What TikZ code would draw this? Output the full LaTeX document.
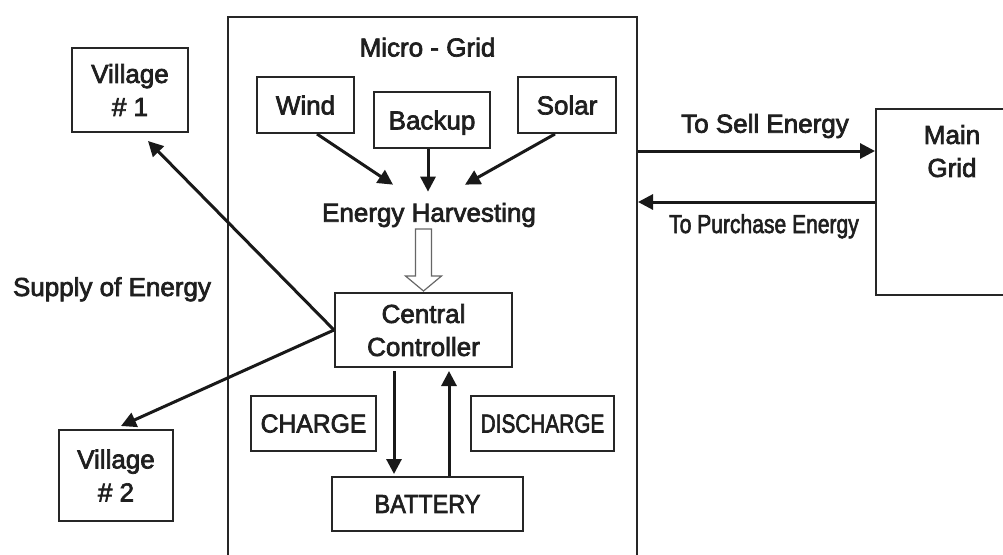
\documentclass[tikz,border=0pt]{standalone}
\usepackage{fontspec}
\setmainfont{Liberation Sans}
\usetikzlibrary{arrows.meta,calc}
\newcommand\heavyon{\special{pdf:literal direct 2 Tr 0.7 w}}
\newcommand\heavyoff{\special{pdf:literal direct 0 Tr}}
\begin{document}
\begin{tikzpicture}[x=1pt,y=-1pt,
  every node/.style={font=\fontsize{26}{33}\selectfont, text=black!88,
    execute at begin node=\heavyon, execute at end node=\heavyoff},
  box/.style={draw=black!85, line width=2pt, inner sep=0pt, align=center, text depth=0pt},
  lbl/.style={inner sep=0pt, anchor=base},
  conn/.style={draw=black!90, line width=3pt, -{Triangle[length=15pt,width=15pt]}},
  ]
\useasboundingbox (0,0) rectangle (1003,554);
\fill[white] (0,0) rectangle (1003,554);

% micro-grid enclosure (open at the bottom of the picture)
\draw[black!85, line width=2.2pt] (228,560) -- (228,17) -- (637,17) -- (637,560);

% nodes
\node[lbl] (mgl) at (427.5,56.5) {Micro - Grid};
\node[box, minimum width=116pt, minimum height=84pt] (v1) at (130,90) {Village\\\# 1};
\node[box, minimum width=114pt, minimum height=91pt] (v2) at (116,475.5) {Village\\\# 2};
\node[box, minimum width=97pt, minimum height=56pt] (wind) at (305.5,105) {Wind};
\node[box, minimum width=116pt, minimum height=56pt] (backup) at (432,120) {Backup};
\node[box, minimum width=98pt, minimum height=56pt] (solar) at (567,105) {Solar};
\node[lbl] (eh) at (429,221.7) {Energy Harvesting};
\node[box, minimum width=177pt, minimum height=74pt] (cc) at (423.5,330) {Central\\Controller};
\node[box, minimum width=125pt, minimum height=55pt] (charge) at (313.5,423.5) {\scalebox{0.95}[1]{CHARGE}};
\node[box, minimum width=143pt, minimum height=55pt] (dis) at (542.5,423.5) {\scalebox{0.8}[1]{DISCHARGE}};
\node[box, minimum width=191pt, minimum height=54pt] (bat) at (427.5,504) {\scalebox{0.9}[1]{BATTERY}};
\node[box, minimum width=152pt, minimum height=186pt] (main) at (952,202) {};
\node[inner sep=0pt, align=center, text depth=0pt] (maint) at (952,151) {Main\\Grid};
\node[lbl] (supply) at (112,296) {Supply of Energy};
\node[lbl] (sell) at (765,132.7) {To Sell Energy};
\node[lbl] (buy) at (764,233) {\scalebox{0.81}[1]{To Purchase Energy}};

% coordinates on the micro-grid border
\coordinate (mgE1) at (638,151);
\coordinate (mgE2) at (638,202);

% sources to energy harvesting
\draw[conn] ($(wind.south)+(11.5,0)$) -- ($(eh.north)+(-36,-18)$);
\draw[conn] ($(backup.south)+(-4,0)$) -- ($(eh.north)+(-1,-11)$);
\draw[conn] ($(solar.south)+(-12,0)$) -- ($(eh.north)+(36,-18)$);

% hollow arrow energy harvesting -> central controller
\draw[black!60, line width=1.2pt, fill=white]
  ($(cc.north)+(-8,-63)$) -- ++(0,47) -- ++(-10,0) -- ($(cc.north)+(0,-1)$)
  -- ($(cc.north)+(18,-16)$) -- ++(-10,0) -- ++(0,-47) -- cycle;

% supply of energy to villages
\draw[conn] (cc.west) -- ($(v1.south)+(18,8)$);
\draw[conn] (cc.west) -- ($(v2.north)+(5,-3)$);

% charge / discharge
\draw[conn] ($(cc.south)+(-29.5,3)$) -- ($(bat.north)+(-33.5,-2)$);
\draw[conn] ($(bat.north)+(21.5,0)$) -- ($(cc.south)+(25.5,3)$);

% exchange with the main grid
\draw[conn] (mgE1) -- (main.west |- mgE1);
\draw[conn] (main.west |- mgE2) -- (mgE2);
\end{tikzpicture}
\end{document}
